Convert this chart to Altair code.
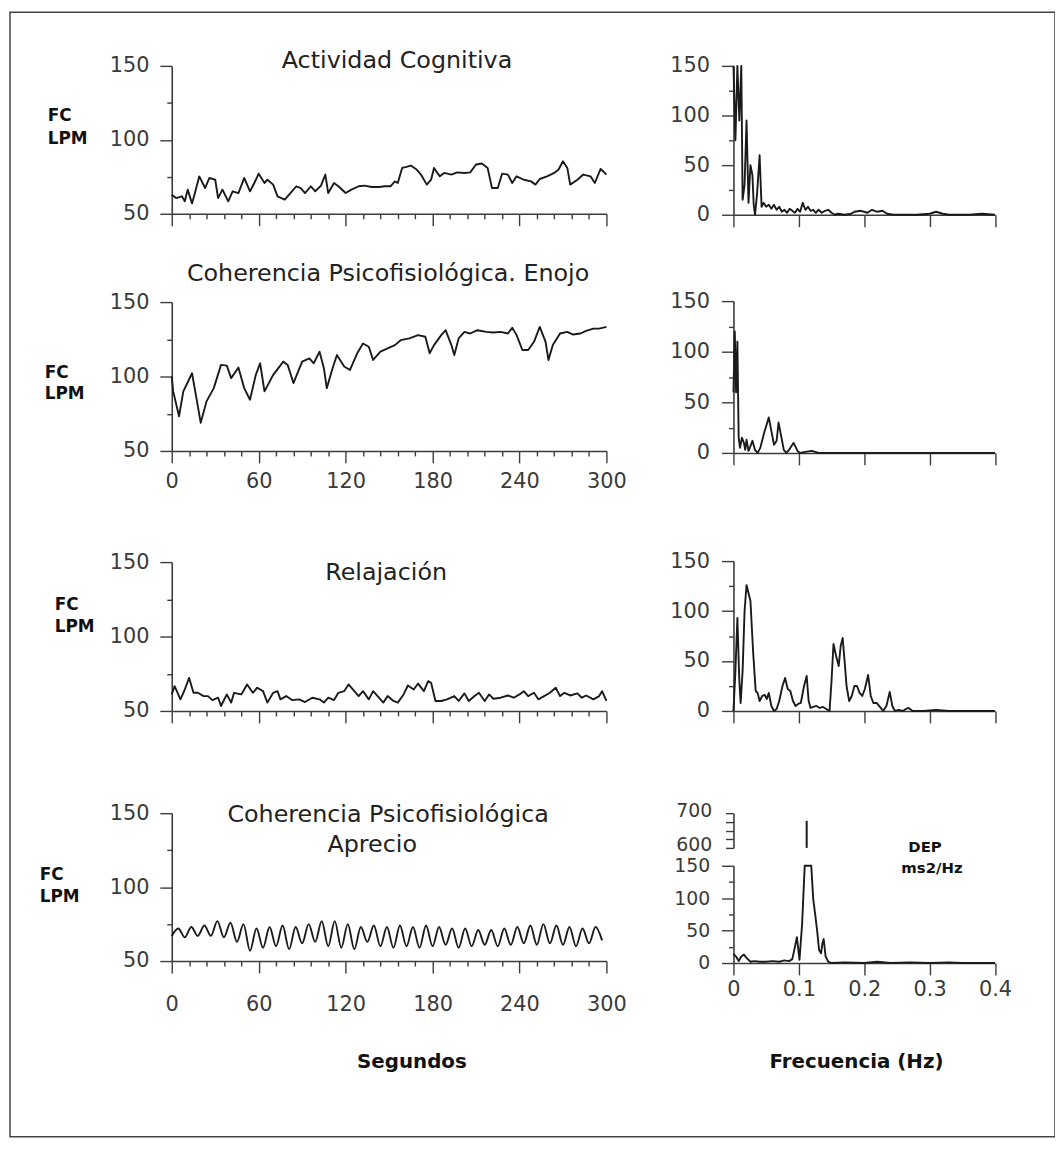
import altair as alt
import pandas as pd

# ---------------- data: heart rate (FC, LPM) vs time (s) ----------------
cog_t = [0, 3, 7, 9, 11, 14, 16, 19, 23, 26,
         30, 32, 35, 39, 42, 46, 50, 54, 57, 60,
         64, 66, 70, 73, 78, 81, 86, 89, 92, 96,
         99, 103, 106, 108, 112, 115, 120, 124, 129, 133,
         138, 143, 147, 151, 154, 156, 159, 162, 165, 169,
         172, 176, 179, 181, 185, 188, 193, 197, 202, 206,
         210, 214, 218, 221, 225, 228, 232, 235, 238, 243,
         248, 251, 254, 259, 264, 267, 270, 273, 275, 280,
         284, 289, 292, 296, 300]
cog_v = [62.9, 60.6, 61.8, 58.4, 66.3, 57.0, 64.0, 75.3, 67.4, 74.2,
         73.0, 60.6, 66.3, 58.4, 65.2, 64.0, 74.2, 65.2, 70.8, 77.1,
         70.8, 73.0, 69.7, 61.8, 59.5, 62.9, 68.6, 67.4, 64.0, 68.6,
         65.2, 69.0, 76.5, 64.0, 70.8, 68.6, 64.0, 66.3, 68.6, 69.0,
         68.1, 68.1, 68.6, 68.6, 71.9, 70.8, 81.0, 81.7, 82.6, 79.9,
         76.5, 69.7, 73.0, 81.0, 75.3, 77.6, 76.5, 78.0, 77.6, 78.0,
         83.3, 84.0, 81.0, 67.4, 67.4, 77.1, 76.5, 70.8, 75.3, 73.0,
         71.9, 69.7, 73.5, 75.3, 77.6, 79.9, 85.5, 81.0, 69.7, 73.0,
         76.5, 75.3, 70.8, 80.3, 76.5]

eno_t = [0, 1, 5, 8, 14, 17, 20, 24, 29, 34,
         38, 41, 46, 50, 54, 58, 61, 64, 70, 77,
         80, 84, 90, 95, 98, 102, 105, 107, 111, 114,
         119, 123, 128, 132, 136, 139, 144, 149, 154, 158,
         164, 170, 175, 178, 181, 186, 189, 193, 195, 198,
         202, 206, 211, 217, 222, 227, 232, 235, 238, 242,
         246, 250, 254, 258, 260, 263, 268, 273, 277, 282,
         286, 291, 295, 300]
eno_v = [100.0, 90.0, 73.3, 90.0, 102.2, 85.6, 68.9, 83.3, 92.2, 107.8,
         107.3, 98.9, 106.0, 92.2, 84.4, 101.1, 108.9, 90.0, 101.1, 110.0,
         107.8, 95.6, 110.0, 112.2, 108.9, 116.7, 105.6, 92.2, 105.6, 114.4,
         106.7, 104.4, 115.6, 122.2, 120.0, 111.1, 116.7, 118.9, 121.1, 124.4,
         125.6, 127.8, 126.7, 115.6, 121.1, 127.8, 131.1, 121.1, 114.4, 125.6,
         130.0, 128.9, 131.1, 130.0, 129.6, 130.0, 128.9, 132.7, 127.8, 117.8,
         117.8, 123.3, 133.3, 123.3, 111.1, 121.1, 128.9, 130.0, 128.2, 128.9,
         130.7, 132.2, 132.2, 133.3]

rel_t = [0, 2, 6, 9, 12, 15, 18, 22, 25, 28,
         32, 34, 38, 41, 43, 48, 52, 56, 59, 63,
         66, 70, 73, 75, 79, 83, 88, 92, 97, 102,
         105, 108, 112, 115, 119, 122, 126, 129, 132, 136,
         139, 143, 146, 149, 153, 156, 160, 163, 167, 170,
         174, 177, 179, 182, 186, 190, 195, 198, 202, 205,
         209, 212, 216, 219, 222, 227, 232, 236, 240, 243,
         246, 250, 253, 257, 261, 265, 268, 271, 275, 280,
         283, 286, 291, 295, 297, 300]
rel_v = [61.1, 66.7, 57.8, 64.4, 72.2, 62.2, 62.2, 60.0, 60.0, 57.3,
         58.9, 53.3, 61.1, 55.6, 62.2, 61.1, 67.8, 62.2, 65.6, 63.3,
         55.6, 62.2, 63.3, 57.8, 60.0, 57.3, 57.8, 56.0, 58.9, 57.8,
         55.6, 58.9, 57.3, 62.2, 63.3, 67.8, 63.3, 60.0, 63.3, 57.8,
         63.3, 58.9, 55.6, 60.0, 56.7, 55.6, 61.1, 67.1, 64.4, 68.4,
         63.3, 70.0, 68.9, 56.7, 56.7, 57.8, 60.0, 56.7, 61.8, 56.7,
         60.0, 62.2, 56.7, 61.1, 58.2, 58.9, 60.4, 58.9, 61.1, 63.3,
         60.0, 62.2, 57.8, 60.0, 62.2, 65.6, 60.0, 62.2, 60.4, 61.8,
         58.9, 60.4, 57.8, 60.0, 63.3, 56.7]

apr_t = [0, 4.5, 9, 13.5, 18, 22.5, 27, 31.5, 36, 40.5,
         45, 49.5, 54, 58.5, 63, 67.5, 72, 76.5, 81, 85.5,
         90, 94.5, 99, 103.5, 108, 112.5, 117, 121.5, 126, 130.5,
         135, 139.5, 144, 148.5, 153, 157.5, 162, 166.5, 171, 175.5,
         180, 184.5, 189, 193.5, 198, 202.5, 207, 211.5, 216, 220.5,
         225, 229.5, 234, 238.5, 243, 247.5, 252, 256.5, 261, 265.5,
         270, 274.5, 279, 283.5, 288, 292.5, 297]
apr_v = [67, 72, 66, 73, 67, 74, 67, 77, 66, 76,
         63, 75, 57, 72, 59, 73, 60, 74, 58, 73,
         62, 75, 63, 77, 60, 77, 59, 75, 58, 73,
         63, 74, 60, 73, 59, 74, 60, 73, 59, 74,
         60, 73, 61, 72, 59, 72, 60, 71, 61, 71,
         60, 72, 61, 73, 62, 74, 61, 75, 62, 74,
         61, 73, 60, 72, 62, 73, 64]

# ---------------- data: power spectra (DEP ms2/Hz) vs frequency (Hz) ----------------
cog_f = [0.000, 0.003, 0.006, 0.009, 0.012, 0.014, 0.017, 0.020, 0.023, 0.026,
         0.029, 0.031, 0.033, 0.036, 0.040, 0.043, 0.046, 0.050, 0.054, 0.058,
         0.062, 0.066, 0.070, 0.074, 0.078, 0.082, 0.086, 0.090, 0.094, 0.098,
         0.102, 0.106, 0.110, 0.114, 0.118, 0.122, 0.126, 0.130, 0.135, 0.140,
         0.145, 0.150, 0.155, 0.160, 0.170, 0.180, 0.185, 0.195, 0.205, 0.212,
         0.220, 0.228, 0.235, 0.245, 0.260, 0.280, 0.300, 0.310, 0.320, 0.330,
         0.360, 0.380, 0.400]
cog_p = [150, 75, 150, 95, 150, 15, 30, 95, 12, 50,
         40, 10, 0, 20, 60, 8, 12, 8, 10, 6,
         10, 5, 8, 3, 5, 2, 6, 4, 2, 6,
         3, 12, 5, 8, 4, 5, 2, 5, 2, 4,
         5, 2, 0, 1, 0, 1, 3, 4, 2, 5,
         3, 4, 1, 0, 0, 0, 1, 3, 1, 0,
         0, 1, 0]

eno_f = [0.000, 0.002, 0.004, 0.006, 0.008, 0.010, 0.013, 0.016, 0.018, 0.020,
         0.023, 0.025, 0.029, 0.033, 0.037, 0.041, 0.047, 0.054, 0.057, 0.062,
         0.066, 0.069, 0.072, 0.077, 0.081, 0.085, 0.092, 0.098, 0.102, 0.110,
         0.120, 0.130, 0.150, 0.200, 0.250, 0.300, 0.350, 0.400]
eno_p = [60, 120, 60, 110, 15, 5, 15, 10, 3, 13,
         2, 5, 12, 3, 0, 5, 20, 35, 25, 8,
         12, 30, 20, 3, 0, 3, 10, 2, 0, 1,
         2, 0, 0, 0, 0, 0, 0, 0]

rel_f = [0.000, 0.003, 0.006, 0.009, 0.011, 0.014, 0.017, 0.020, 0.023, 0.026,
         0.030, 0.034, 0.037, 0.040, 0.044, 0.048, 0.051, 0.054, 0.058, 0.062,
         0.066, 0.070, 0.075, 0.079, 0.083, 0.087, 0.091, 0.095, 0.099, 0.103,
         0.108, 0.112, 0.115, 0.118, 0.122, 0.127, 0.132, 0.137, 0.142, 0.147,
         0.150, 0.153, 0.157, 0.161, 0.164, 0.167, 0.170, 0.173, 0.177, 0.181,
         0.185, 0.189, 0.193, 0.197, 0.201, 0.206, 0.210, 0.214, 0.219, 0.224,
         0.229, 0.234, 0.239, 0.243, 0.247, 0.253, 0.259, 0.264, 0.268, 0.274,
         0.290, 0.310, 0.330, 0.350, 0.400]
rel_p = [0, 40, 93, 30, 8, 40, 100, 126, 118, 110,
         60, 20, 18, 10, 15, 16, 12, 18, 5, 0,
         2, 10, 25, 33, 22, 20, 10, 5, 7, 8,
         25, 35, 10, 3, 4, 5, 3, 4, 2, 0,
         30, 67, 55, 45, 65, 73, 50, 25, 10, 15,
         25, 25, 18, 15, 22, 36, 15, 8, 8, 4,
         0, 5, 19, 5, 0, 1, 0, 2, 3, 0,
         0, 1, 0, 0, 0]

apr_f = [0.000, 0.004, 0.008, 0.012, 0.016, 0.020, 0.026, 0.032, 0.040, 0.050,
         0.060, 0.070, 0.078, 0.085, 0.090, 0.094, 0.097, 0.101, 0.105, 0.109,
         0.112, 0.116, 0.119, 0.122, 0.125, 0.128, 0.131, 0.134, 0.136, 0.138,
         0.141, 0.145, 0.150, 0.170, 0.200, 0.220, 0.240, 0.270, 0.300, 0.330,
         0.350, 0.400]
apr_p = [14, 10, 3, 10, 13, 8, 2, 3, 2, 2,
         3, 2, 4, 3, 6, 25, 40, 5, 60, 300,
         678, 300, 150, 99, 75, 50, 20, 15, 30, 37,
         10, 2, 0, 1, 0, 2, 0, 1, 0, 1,
         0, 0]

# tick values
t_major = [0, 60, 120, 180, 240, 300]
t_minor = [12, 24, 36, 48, 72, 84, 96, 108, 132, 144, 156, 168,
           192, 204, 216, 228, 252, 264, 276, 288]
hr_major = [50, 100, 150]
hr_minor = [75, 125]
f_major = [0, 0.1, 0.2, 0.3, 0.4]
p_major = [0, 50, 100, 150]
p_minor = [25, 75, 125]
p_upper = [600, 625, 650, 675, 700]

titles = ["Actividad Cognitiva", "Coherencia Psicofisiológica. Enojo", "Relajación",
          "Coherencia Psicofisiológica", "Aprecio"]

# ---------------- layout (pixels inside the framed view) ----------------
W, H = 1053, 1133
LX = [163, 601]
RX = [729, 992.5]
ROWS_L = [[203, 54], [442, 292], [704, 554], [956, 807]]
ROWS_R = [[204, 54], [444, 291], [704, 553], [958, 860]]
UPPER_R = [842, 807]
FONT = "DejaVu Sans"
INK = "#1a1a1a"
AXC = "#3c3c3c"


def axis(orient, pos, values, size, labels=True, domain=True, pad=10, expr=None,
         fsize=21, loff=0):
    offset = -pos if orient == "left" else pos - H
    kw = dict(orient=orient, offset=offset, values=values, tickSize=size, labels=labels,
              domain=domain, grid=False, title=None, labelPadding=pad, labelFlush=False,
              labelOverlap=False, labelFont=FONT, labelFontSize=fsize, labelColor="#3a3a3a",
              tickColor=AXC, domainColor=AXC, tickWidth=1.4, domainWidth=1.6, format=".1~f",
              labelOffset=loff)
    if expr:
        kw["labelExpr"] = expr
    return alt.Axis(**kw)


def line(xs, ys, xdom, xr, ydom, yr, xax, yax, interp="linear", clamp=False, op=1.0):
    df = pd.DataFrame({"x": xs, "y": ys})
    return alt.Chart(df).mark_line(color=INK, strokeWidth=1.9, interpolate=interp,
                                   strokeOpacity=op, strokeJoin="round").encode(
        x=alt.X("x:Q", scale=alt.Scale(domain=xdom, range=xr, nice=False, zero=False), axis=xax),
        y=alt.Y("y:Q", scale=alt.Scale(domain=ydom, range=yr, nice=False, zero=False, clamp=clamp),
                axis=yax),
    )


def text(s, x, y, size, bold=False, align="center", baseline="alphabetic", color="#222"):
    return alt.Chart(pd.DataFrame({"s": [s]})).mark_text(
        font=FONT, fontSize=size, fontWeight="bold" if bold else "normal",
        align=align, baseline=baseline, color=color).encode(
        x=alt.value(x), y=alt.value(y), text="s:N")


layers = []
left_series = [(cog_t, cog_v, "linear"), (eno_t, eno_v, "linear"),
               (rel_t, rel_v, "linear"), (apr_t, apr_v, "monotone")]
right_series = [(cog_f, cog_p), (eno_f, eno_p), (rel_f, rel_p), (apr_f, apr_p)]
xlab_pad = {1: 8, 3: 21}

for i, (ts, vs, interp) in enumerate(left_series):
    yr = ROWS_L[i]
    show = i in xlab_pad
    layers.append(line(ts, vs, [0, 300], LX, [50, 150], yr,
                       axis("bottom", yr[0], t_major, 12, labels=show, pad=xlab_pad.get(i, 8)),
                       axis("left", LX[0], hr_major, 12, pad=11), interp=interp))
    layers.append(line(ts, vs, [0, 300], LX, [50, 150], yr,
                       axis("bottom", yr[0], t_minor, 5, labels=False, domain=False),
                       axis("left", LX[0], hr_minor, 5, labels=False, domain=False),
                       interp=interp, op=0.0))

for i, (fs, ps) in enumerate(right_series):
    yr = ROWS_R[i]
    last = (i == 3)
    layers.append(line(fs, ps, [0, 0.4], RX, [0, 150], yr,
                       axis("bottom", yr[0], f_major, 12, labels=last, pad=4),
                       axis("left", RX[0], p_major, 12, pad=12,
                            fsize=19 if last else 21,
                            expr="datum.value === 150 ? '150' : datum.label" if last else None,
                            loff=0),
                       clamp=True))
    layers.append(line(fs, ps, [0, 0.4], RX, [0, 150], yr, None,
                       axis("left", RX[0], p_minor, 5, labels=False, domain=False),
                       clamp=True, op=0.0))

# broken axis: upper part (600-700) of the Aprecio spectrum
upper = alt.Chart(pd.DataFrame({"x": apr_f, "y": apr_p})).transform_filter(
    "datum.y > 600").mark_rule(color=INK, strokeWidth=2.0).encode(
    x=alt.X("x:Q", scale=alt.Scale(domain=[0, 0.4], range=RX, nice=False, zero=False), axis=None),
    y=alt.Y("y:Q", scale=alt.Scale(domain=[600, 700], range=UPPER_R, nice=False, zero=False),
            axis=axis("left", RX[0], p_upper, 8, pad=14, fsize=19, loff=-3,
                      expr="datum.value % 100 === 0 ? datum.label : ''")),
    y2=alt.datum(600),
)
layers.append(upper)

# titles and labels
layers += [
    text(titles[0], 390, 56, 24),
    text(titles[1], 381, 271, 24),
    text(titles[2], 379, 572, 24),
    text(titles[3], 381, 816, 24),
    text(titles[4], 365, 846, 24),
]
for (fx, fy, ly) in [(38, 105, 128), (35, 364, 385), (45, 597, 619), (30, 869, 892)]:
    layers.append(text("FC", fx, fy, 17, bold=True, align="left", baseline="middle", color="#111"))
    layers.append(text("LPM", fx, ly, 17, bold=True, align="left", baseline="middle", color="#111"))
layers += [
    text("Segundos", 405, 1058, 20, bold=True, baseline="middle", color="#111"),
    text("Frecuencia (Hz)", 853, 1058, 20, bold=True, baseline="middle", color="#111"),
    text("DEP", 922, 841, 15, bold=True, baseline="middle", color="#111"),
    text("ms2/Hz", 929, 862, 15, bold=True, baseline="middle", color="#111"),
]

chart = alt.layer(*layers).resolve_scale(x="independent", y="independent").properties(
    width=W, height=H, autosize="none",
    padding={"left": 2, "top": 0, "right": 0, "bottom": 0},
).configure_view(stroke="#444", strokeWidth=1.5)

chart.save("out.html", embed_options={"renderer": "svg", "actions": False})
